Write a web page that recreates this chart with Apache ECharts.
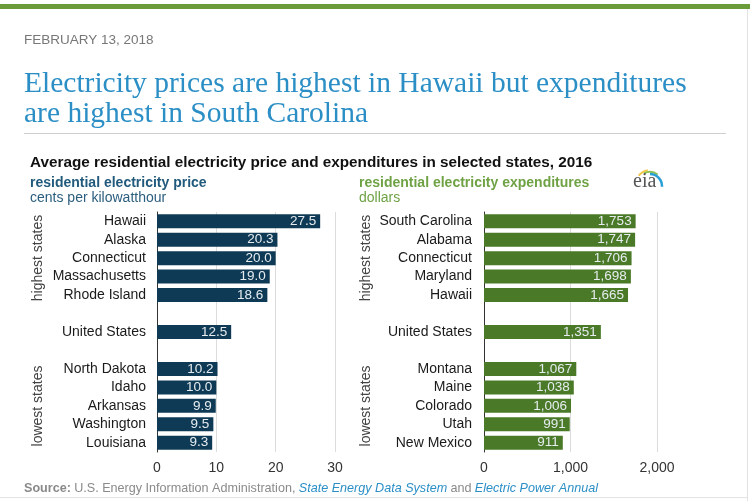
<!DOCTYPE html>
<html><head><meta charset="utf-8">
<script src="https://cdn.jsdelivr.net/npm/echarts@6/dist/echarts.min.js"></script>
<style>html,body{margin:0;padding:0;background:#fff}#c{width:750px;height:501px}</style>
</head><body><div id="c"></div>
<script>
const priceStates = ['Hawaii','Alaska','Connecticut','Massachusetts','Rhode Island','','United States','','North Dakota','Idaho','Arkansas','Washington','Louisiana'];
const priceValues = [27.5,20.3,20.0,19.0,18.6,null,12.5,null,10.2,10.0,9.9,9.5,9.3];
const expStates = ['South Carolina','Alabama','Connecticut','Maryland','Hawaii','','United States','','Montana','Maine','Colorado','Utah','New Mexico'];
const expValues = [1753,1747,1706,1698,1665,null,1351,null,1067,1038,1006,991,911];
const priceTicks = [0,10,20,30];
const expTicks = [0,1000,2000];

const chart = echarts.init(document.getElementById('c'));
const F = 'Liberation Sans, Arial, sans-serif';
const labelStyle = (fmt)=>({show:true,position:'insideRight',color:'#e6ecef',fontSize:13.5,fontFamily:F,distance:4,formatter:fmt});
const fmtComma = v => v.toLocaleString('en-US');

chart.setOption({
  animation:false,
  grid:[
    {left:157,top:212,width:178,height:240},
    {left:484,top:212,width:173,height:240}
  ],
  xAxis:[
    {gridIndex:0,type:'value',min:0,max:30,interval:10,
     axisLine:{show:false},axisTick:{show:false},
     splitLine:{lineStyle:{color:'#dcdcdc'}},
     axisLabel:{color:'#333',fontSize:14,fontFamily:F,margin:9,
       formatter:v=>priceTicks.includes(v)?String(v):''}},
    {gridIndex:1,type:'value',min:0,max:2000,interval:1000,
     axisLine:{show:false},axisTick:{show:false},
     splitLine:{lineStyle:{color:'#dcdcdc'}},
     axisLabel:{color:'#333',fontSize:14,fontFamily:F,margin:9,
       formatter:v=>expTicks.includes(v)?fmtComma(v):''}}
  ],
  yAxis:[
    {gridIndex:0,type:'category',data:priceStates,inverse:true,
     axisLine:{show:true,lineStyle:{color:'#333',width:1}},axisTick:{show:false},
     axisLabel:{color:'#1a1a1a',fontSize:14,fontFamily:F,margin:11}},
    {gridIndex:1,type:'category',data:expStates,inverse:true,
     axisLine:{show:true,lineStyle:{color:'#333',width:1}},axisTick:{show:false},
     axisLabel:{color:'#1a1a1a',fontSize:14,fontFamily:F,margin:12}}
  ],
  series:[
    {type:'bar',xAxisIndex:0,yAxisIndex:0,data:priceValues,barWidth:14,
     itemStyle:{color:'#0e3a56'},label:labelStyle(p=>p.value.toFixed(1))},
    {type:'bar',xAxisIndex:1,yAxisIndex:1,data:expValues,barWidth:14,
     itemStyle:{color:'#4a7a27'},label:labelStyle(p=>fmtComma(p.value))}
  ],
  graphic:[
    {type:'rect',shape:{x:0,y:4,width:750,height:5},style:{fill:'#6a9c3a'}},
    {type:'rect',shape:{x:747,y:9,width:1,height:492},style:{fill:'#e2e2e2'}},
    {type:'rect',shape:{x:0,y:497,width:747,height:1},style:{fill:'#e4e4e4'}},
    {type:'text',left:24,top:33,style:{text:'FEBRUARY 13, 2018',font:'13.5px '+F,fill:'#777'}},
    {type:'text',left:24,top:69,style:{text:'Electricity prices are highest in Hawaii but expenditures\nare highest in South Carolina',
      font:'29.5px "Liberation Serif", "Times New Roman", serif',fill:'#2b8fc6',lineHeight:30}},
    {type:'rect',shape:{x:24,y:133,width:702,height:1},style:{fill:'#cfcfcf'}},
    {type:'text',left:30,top:155,style:{text:'Average residential electricity price and expenditures in selected states, 2016',font:'bold 15.3px '+F,fill:'#111'}},
    {type:'text',left:30,top:176,style:{text:'residential electricity price',font:'bold 14px '+F,fill:'#215a7c'}},
    {type:'text',left:30,top:191,style:{text:'cents per kilowatthour',font:'14px '+F,fill:'#2b5e7e'}},
    {type:'text',left:359,top:176,style:{text:'residential electricity expenditures',font:'bold 14px '+F,fill:'#6ea244'}},
    {type:'text',left:359,top:191,style:{text:'dollars',font:'14px '+F,fill:'#6ea244'}},
    {type:'text',x:38,y:258,rotation:Math.PI/2,style:{text:'highest states',font:'14px '+F,fill:'#444',align:'center',verticalAlign:'middle'}},
    {type:'text',x:38,y:406,rotation:Math.PI/2,style:{text:'lowest states',font:'14px '+F,fill:'#444',align:'center',verticalAlign:'middle'}},
    {type:'text',x:366,y:258,rotation:Math.PI/2,style:{text:'highest states',font:'14px '+F,fill:'#444',align:'center',verticalAlign:'middle'}},
    {type:'text',x:366,y:406,rotation:Math.PI/2,style:{text:'lowest states',font:'14px '+F,fill:'#444',align:'center',verticalAlign:'middle'}},
    {type:'arc',shape:{cx:650,cy:184,r:14,startAngle:-Math.PI*0.8,endAngle:-Math.PI*0.55},style:{stroke:'#f2c94c',lineWidth:2,fill:null}},
    {type:'arc',shape:{cx:650,cy:185,r:13,startAngle:-Math.PI*0.65,endAngle:-Math.PI*0.3},style:{stroke:'#8cc152',lineWidth:2,fill:null}},
    {type:'arc',shape:{cx:650,cy:186,r:12,startAngle:-Math.PI*0.5,endAngle:Math.PI*0.02},style:{stroke:'#2a9fd6',lineWidth:2.5,fill:null}},
    {type:'text',left:633,top:172,style:{text:'eia',font:'20px "Liberation Serif", serif',fill:'#555'}},
    {type:'text',left:24,top:482,style:{text:'{b|Source:} {g|U.S. Energy Information Administration,} {l|State Energy Data System} {g|and} {l|Electric Power Annual}',
      fill:'#8a8a8a',
      rich:{b:{fontWeight:'bold',fontSize:12.6,fontFamily:F,fill:'#8a8a8a'},
            g:{fontSize:12.6,fontFamily:F,fill:'#8a8a8a'},
            l:{fontSize:12.6,fontFamily:F,fontStyle:'italic',fill:'#2b8fc6'}}}}
  ]
});
</script></body></html>
